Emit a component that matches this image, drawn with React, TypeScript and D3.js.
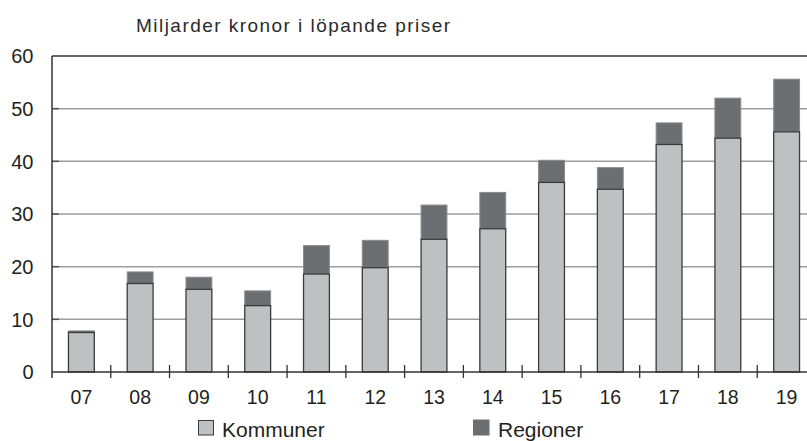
import React from "react";
import * as d3 from "d3";

const years = ["07", "08", "09", "10", "11", "12", "13", "14", "15", "16", "17", "18", "19"];
const kommuner = [7.5, 16.8, 15.7, 12.6, 18.6, 19.8, 25.2, 27.2, 36.0, 34.7, 43.2, 44.4, 45.6];
const regioner = [0.3, 2.2, 2.3, 2.8, 5.4, 5.2, 6.5, 6.9, 4.2, 4.1, 4.1, 7.6, 10.0];
const yTicks = [0, 10, 20, 30, 40, 50, 60];
const title = "Miljarder kronor i löpande priser";
const seriesNames = ["Kommuner", "Regioner"];

const W = 807;
const H = 441;
const left = 52;
const right = 816;
const top = 56;
const bottom = 372;

export default function App() {
  const x = d3.scaleBand<string>().domain(years).range([left, right]).paddingInner(0.56).paddingOuter(0.28);
  const xb = d3.scaleBand<string>().domain(years).range([left, right]);
  const y = d3.scaleLinear().domain([0, 60]).range([bottom, top]);
  const font = "'Liberation Sans', Arial, sans-serif";
  return (
    <svg width={W} height={H} style={{ position: "absolute", left: 0, top: 0 }}>
      <rect x={0} y={0} width={W} height={H} fill="#fff" />
      <text x={136} y={32} fontFamily={font} fontSize={19} fill="#2a2a2a" textLength={314} lengthAdjust="spacing">
        {title}
      </text>
      {yTicks.filter((t) => t > 0 && t < 60).map((t) => (
        <g key={"g" + t}>
          <line x1={left} x2={W} y1={y(t)} y2={y(t)} stroke="#9d9d9d" strokeWidth={1.5} />
          <line x1={left} x2={left + 7} y1={y(t)} y2={y(t)} stroke="#555" strokeWidth={1.5} />
        </g>
      ))}
      <line x1={left} x2={W} y1={y(60)} y2={y(60)} stroke="#333" strokeWidth={1.5} />
      {years.map((yr, i) => {
        const bx = x(yr)!;
        const bw = x.bandwidth();
        return (
          <g key={yr}>
            <rect x={bx} y={y(kommuner[i] + regioner[i])} width={bw} height={y(kommuner[i]) - y(kommuner[i] + regioner[i])} fill="#6d6e71" stroke="#8a8b8d" strokeWidth={1} />
            <rect x={bx} y={y(kommuner[i])} width={bw} height={y(0) - y(kommuner[i])} fill="#bfc0c2" stroke="#3a3a3a" strokeWidth={1.3} />
          </g>
        );
      })}
      <line x1={left} x2={left} y1={y(60)} y2={y(0) + 6} stroke="#333" strokeWidth={1.5} />
      <line x1={left} x2={W} y1={y(0)} y2={y(0)} stroke="#333" strokeWidth={1.5} />
      {years.slice(1).map((yr) => (
        <line key={"t" + yr} x1={xb(yr)!} x2={xb(yr)!} y1={y(0) - 7} y2={y(0) + 6} stroke="#333" strokeWidth={1.3} />
      ))}
      {yTicks.map((t) => (
        <text key={"yl" + t} x={33.5} y={y(t) + 7.3} textAnchor="end" fontFamily={font} fontSize={20} fill="#231f20">
          {t}
        </text>
      ))}
      {years.map((yr) => (
        <text key={"xl" + yr} x={xb(yr)! + xb.bandwidth() / 2} y={404} textAnchor="middle" fontFamily={font} fontSize={19.5} fill="#231f20">
          {yr}
        </text>
      ))}
      <rect x={198.5} y={420.5} width={15} height={14.5} fill="#bfc0c2" stroke="#3a3a3a" strokeWidth={1} />
      <text x={222} y={436.5} fontFamily={font} fontSize={21} fill="#231f20">{seriesNames[0]}</text>
      <rect x={473} y={419.5} width={16.5} height={16} fill="#6d6e71" />
      <text x={498} y={436.5} fontFamily={font} fontSize={21} fill="#231f20">{seriesNames[1]}</text>
    </svg>
  );
}
